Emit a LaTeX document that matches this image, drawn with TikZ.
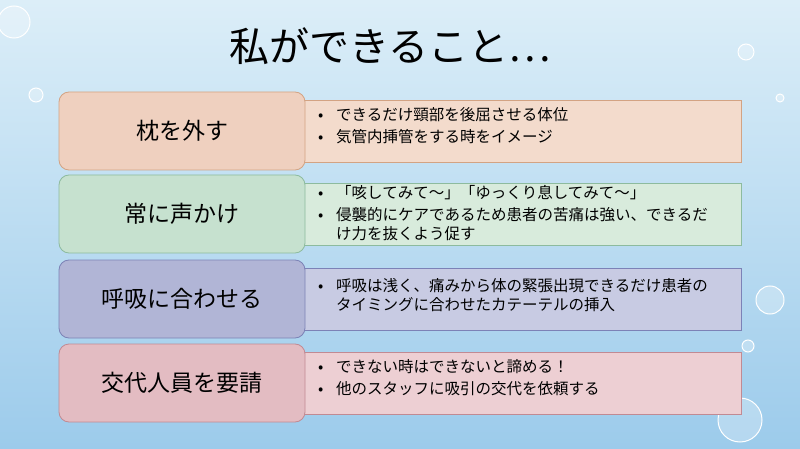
\documentclass[tikz,border=0pt]{standalone}
\usepackage{fontspec}
\setmainfont{Noto Sans CJK JP}
\definecolor{bgtop}{HTML}{DCEEF8}
\definecolor{bgbot}{HTML}{9CCBEB}
\definecolor{peachL}{HTML}{EFD0BF}\definecolor{peachR}{HTML}{F3DBCC}\definecolor{peachB}{HTML}{D3A383}
\definecolor{greenL}{HTML}{C6E1CF}\definecolor{greenR}{HTML}{D8EBDC}\definecolor{greenB}{HTML}{8DBB9E}
\definecolor{blueL}{HTML}{B1B5D6}\definecolor{blueR}{HTML}{C8CBE3}\definecolor{blueB}{HTML}{7C82B6}
\definecolor{pinkL}{HTML}{E3BCC2}\definecolor{pinkR}{HTML}{EDCFD3}\definecolor{pinkB}{HTML}{C18A93}
\tikzset{
  leftbox/.style={draw=#1B, fill=#1L, rounded corners=10pt, line width=0.8pt,
    minimum width=246pt, minimum height=78pt, font=\fontsize{23}{26}\selectfont, inner sep=0pt},
  rightbox/.style={draw=#1B, fill=#1R, line width=0.8pt, anchor=west,
    minimum width=437pt, minimum height=62pt, inner sep=0pt},
  btext/.style={anchor=north west, text width=415pt, align=left,
    font=\fontsize{15.5}{19}\selectfont, inner sep=0pt},
  bubble/.style={draw=white, line width=1pt, fill=white, fill opacity=0.25}
}
\newcommand{\itm}{\makebox[18pt][l]{•}}
\begin{document}
\begin{tikzpicture}[x=1pt,y=-1pt]
\shade[top color=bgtop, bottom color=bgbot] (0,0) rectangle (800,449);
\useasboundingbox (0,0) rectangle (800,449);
% bubbles
\draw[bubble] (14,22) circle (16);
\draw[bubble] (746,52) circle (8);
\draw[bubble] (780,98) circle (4);
\draw[bubble] (770,300) circle (14);
\draw[bubble] (748,346) circle (6);
\draw[bubble] (740,420) circle (22);
\draw[bubble] (36,95) circle (7);
\node (title) at (390,46) {\fontsize{40}{44}\selectfont 私ができること…};
% rows
\foreach \c/\y/\lab [count=\i] in {peach/131/枕を外す, green/214/常に声かけ, blue/299/呼吸に合わせる, pink/383/交代人員を要請}{
  \node[rightbox=\c] (r\i) at (304,\y) {};
  \node[leftbox=\c] (l\i) at (182,\y) {\lab};
}
\node[btext] (t1) at ([xshift=14pt,yshift=-8pt]r1.north west)
  {\itm できるだけ頸部を後屈させる体位\\[3pt]\itm 気管内挿管をする時をイメージ};
\node[btext] (t2) at ([xshift=14pt,yshift=-3pt]r2.north west)
  {\itm 「咳してみて～」「ゆっくり息してみて～」\\[3pt]\itm 侵襲的にケアであるため患者の苦痛は強い、できるだ\\\hspace*{18pt}け力を抜くよう促す};
\node[btext] (t3) at ([xshift=14pt,yshift=-11pt]r3.north west)
  {\itm 呼吸は浅く、痛みから体の緊張出現できるだけ患者の\\\hspace*{18pt}タイミングに合わせたカテーテルの挿入};
\node[btext] (t4) at ([xshift=14pt,yshift=-8pt]r4.north west)
  {\itm できない時はできないと諦める！\\[3pt]\itm 他のスタッフに吸引の交代を依頼する};
\end{tikzpicture}
\end{document}
